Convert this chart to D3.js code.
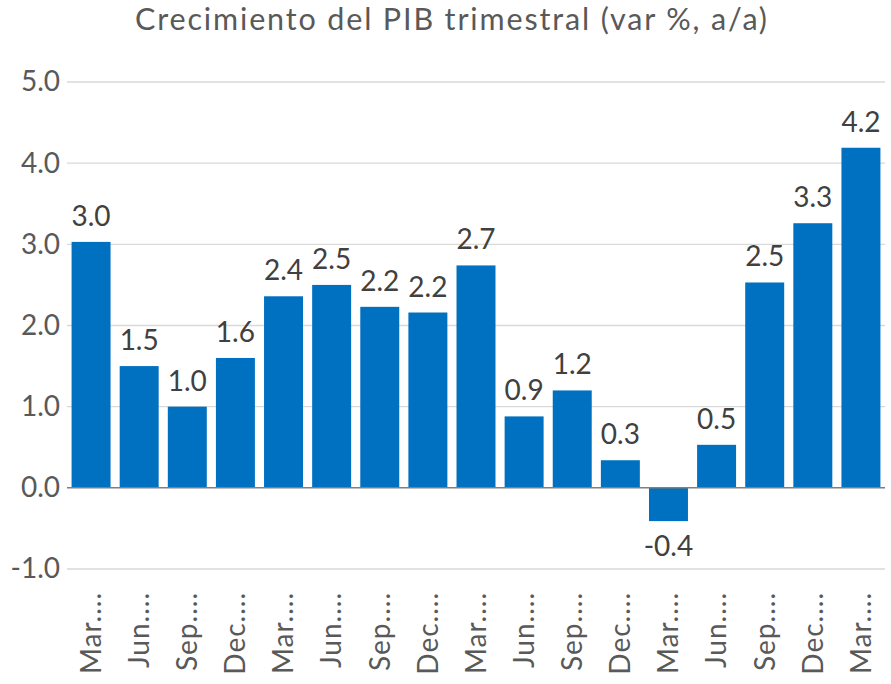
<!DOCTYPE html>
<html>
<head>
<meta charset="utf-8">
<script src="https://cdn.jsdelivr.net/npm/d3@7"></script>
<style>
  html, body { margin: 0; padding: 0; background: #fff; }
  svg { display: block; font-family: Lato, "Noto Sans", sans-serif; }
</style>
</head>
<body>
<svg id="chart" width="891" height="684"></svg>
<script>
const title = "Crecimiento del PIB trimestral (var %, a/a)";
const categories = ["Mar....", "Jun....", "Sep....", "Dec....", "Mar....", "Jun....", "Sep....", "Dec....", "Mar....", "Jun....", "Sep....", "Dec....", "Mar....", "Jun....", "Sep....", "Dec....", "Mar...."];
const values = [3.03, 1.50, 1.00, 1.60, 2.36, 2.50, 2.23, 2.16, 2.74, 0.88, 1.20, 0.34, -0.41, 0.53, 2.53, 3.26, 4.19];
const yTicks = [-1, 0, 1, 2, 3, 4, 5];

(function () {
const svg = d3.select("#chart");
const mLeft = 67, mRight = 885, mTop = 82, mBottom = 569;
const fmt = d => d3.format(".1f")(d).replace("\u2212", "-");

const x = d3.scaleBand()
  .domain(d3.range(categories.length))
  .range([mLeft, mRight])
  .paddingInner(0.19)
  .paddingOuter(0.095);

const y = d3.scaleLinear().domain([-1, 5]).range([mBottom, mTop]);

// Title
svg.append("text")
  .attr("x", 135)
  .attr("y", 30)
  .attr("text-anchor", "start")
  .attr("font-size", 30.5)
  .attr("textLength", 632)
  .attr("lengthAdjust", "spacing")
  .attr("fill", "#595959")
  .text(title);

// Gridlines
svg.append("g")
  .selectAll("line")
  .data(yTicks.filter(d => d !== 0))
  .join("line")
  .attr("x1", mLeft).attr("x2", mRight)
  .attr("y1", d => y(d)).attr("y2", d => y(d))
  .attr("stroke", "#d9d9d9")
  .attr("stroke-width", 1.3);

// Y axis labels
const yAxis = d3.axisLeft(y).tickValues(yTicks).tickFormat(fmt).tickSize(0).tickPadding(7);
const yg = svg.append("g").attr("transform", `translate(${mLeft},0)`).call(yAxis);
yg.select(".domain").remove();
yg.selectAll("text").attr("font-size", 28).attr("fill", "#595959").attr("font-family", "Lato, sans-serif");

// Bars
svg.append("g")
  .selectAll("rect")
  .data(values)
  .join("rect")
  .attr("x", (d, i) => x(i))
  .attr("width", x.bandwidth())
  .attr("y", d => y(Math.max(0, d)))
  .attr("height", d => Math.abs(y(d) - y(0)))
  .attr("fill", "#0070C0");

// Zero line
svg.append("line")
  .attr("x1", mLeft).attr("x2", mRight)
  .attr("y1", y(0)).attr("y2", y(0))
  .attr("stroke", "#7f7f7f")
  .attr("stroke-width", 1.5);

// Data labels
svg.append("g")
  .selectAll("text")
  .data(values)
  .join("text")
  .attr("x", (d, i) => x(i) + x.bandwidth() / 2)
  .attr("y", d => d >= 0 ? y(d) - 16 : y(d) + 35)
  .attr("text-anchor", "middle")
  .attr("font-size", 28)
  .attr("fill", "#404040")
  .text(fmt);

// X labels (rotated)
svg.append("g")
  .selectAll("text")
  .data(categories)
  .join("text")
  .attr("transform", (d, i) => `translate(${x(i) + x.bandwidth() / 2},${592}) rotate(-90)`)
  .attr("dy", "0.35em")
  .attr("text-anchor", "end")
  .attr("font-size", 28)
  .attr("letter-spacing", 1)
  .attr("fill", "#595959")
  .text(d => d);
})();
</script>
</body>
</html>
